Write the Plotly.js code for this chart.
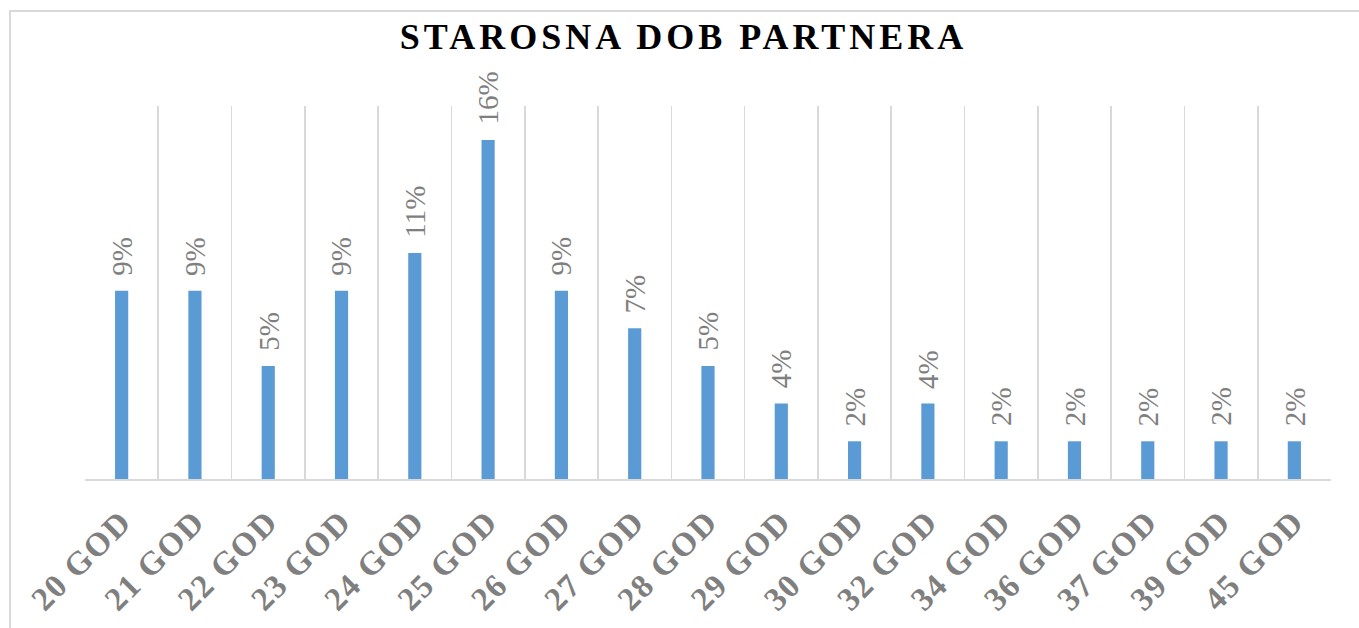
<!DOCTYPE html>
<html>
<head>
<meta charset="utf-8">
<script src="https://cdn.plot.ly/plotly-3.0.1.min.js"></script>
<style>
  html, body { margin: 0; padding: 0; background: #fff; }
  #frame { position: absolute; left: 9px; top: 10px; width: 1400px; height: 700px; border: 2px solid #d9d9d9; box-sizing: border-box; }
  #chart { position: absolute; left: 0; top: 0; width: 1359px; height: 628px; }
  .gtitle { letter-spacing: 4px; }
  .xtick text { letter-spacing: 1.5px; }
</style>
</head>
<body>
<div id="frame"></div>
<div id="chart"></div>
<script>
const categories = ["20 GOD","21 GOD","22 GOD","23 GOD","24 GOD","25 GOD","26 GOD","27 GOD","28 GOD","29 GOD","30 GOD","32 GOD","34 GOD","36 GOD","37 GOD","39 GOD","45 GOD"];
const percentValues = [9.09, 9.09, 5.45, 9.09, 10.91, 16.36, 9.09, 7.27, 5.45, 3.64, 1.82, 3.64, 1.82, 1.82, 1.82, 1.82, 1.82];
const labels = percentValues.map(v => Math.round(v) + "%");

const serif = "Liberation Serif, Times New Roman, serif";

const trace = {
  type: "bar",
  x: categories,
  y: percentValues,
  marker: { color: "#5B9BD5" },
  hoverinfo: "none"
};

const annotations = categories.map((c, i) => ({
  x: c, y: percentValues[i], xref: "x", yref: "y",
  text: labels[i],
  showarrow: false,
  textangle: -90,
  xanchor: "center", yanchor: "bottom",
  yshift: 13,
  font: { family: serif, size: 29, color: "#7f7f7f" }
}));

const layout = {
  width: 1359, height: 628,
  paper_bgcolor: "rgba(0,0,0,0)",
  plot_bgcolor: "rgba(0,0,0,0)",
  margin: { l: 85, r: 28, t: 106, b: 149, pad: 0 },
  bargap: 0.82,
  showlegend: false,
  annotations: annotations,
  title: {
    text: "STAROSNA DOB PARTNERA",
    x: 0.503, xref: "container", xanchor: "center",
    y: 1 - 36/628, yref: "container", yanchor: "middle",
    font: { family: serif, size: 36, color: "#000", weight: "bold" }
  },
  xaxis: {
    type: "category",
    tickson: "boundaries",
    showgrid: true, gridcolor: "#d9d9d9", gridwidth: 1.6,
    showline: true, linecolor: "#d9d9d9", linewidth: 2,
    ticks: "", ticklen: 0,
    tickangle: -45,
    ticklabelstandoff: 8,
    tickfont: { family: serif, size: 33, color: "#7f7f7f", weight: "bold" },
    fixedrange: true
  },
  yaxis: {
    range: [0, 18],
    visible: false,
    showgrid: false, zeroline: false,
    fixedrange: true
  }
};

Plotly.newPlot("chart", [trace], layout, { displayModeBar: false, staticPlot: true });
</script>
</body>
</html>
